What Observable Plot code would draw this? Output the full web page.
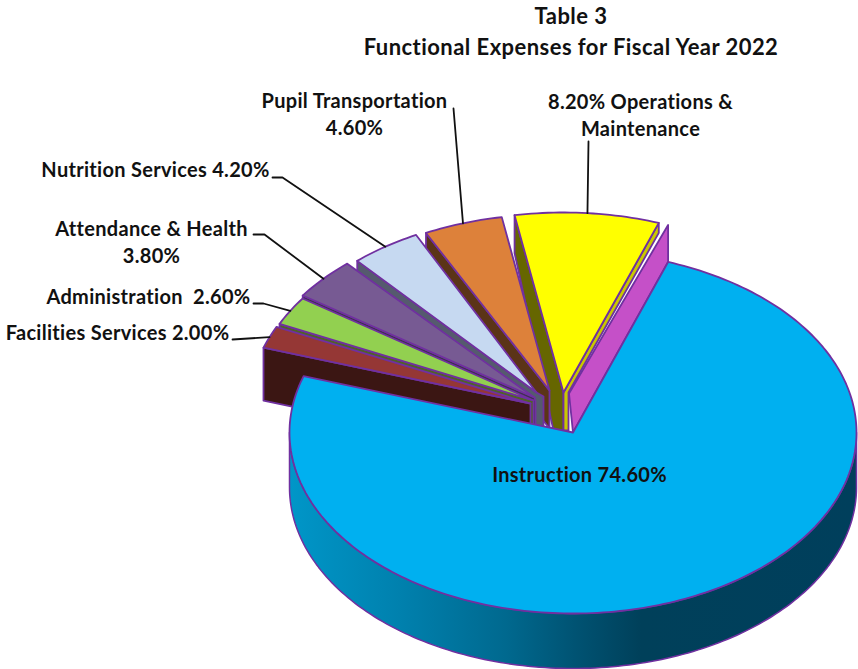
<!DOCTYPE html>
<html>
<head>
<meta charset="utf-8">
<script src="https://cdn.jsdelivr.net/npm/d3@7"></script>
<script src="https://cdn.jsdelivr.net/npm/@observablehq/plot@0.6"></script>
<style>
html,body{margin:0;padding:0;background:#fff;}
#wrap{position:relative;width:858px;height:669px;overflow:hidden;}
#title{position:absolute;left:271px;width:600px;top:0;text-align:center;font:bold 22px/31px Lato,sans-serif;letter-spacing:.45px;color:#111;}
svg{display:block;}
svg text{letter-spacing:.3px;}
</style>
</head>
<body>
<div id="wrap"><div id="title">Table 3<br>Functional Expenses for Fiscal Year 2022</div><div id="chart"></div></div>
<script>
// ---- data ----
const categories = ["Instruction","Facilities Services","Administration","Attendance & Health","Nutrition Services","Pupil Transportation","Operations & Maintenance"];
const shares = [74.6, 2.0, 2.6, 3.8, 4.2, 4.6, 8.2];
const labels = ["Instruction 74.60%","Facilities Services 2.00%","Administration  2.60%","Attendance & Health\n3.80%","Nutrition Services 4.20%","Pupil Transportation\n4.60%","8.20% Operations &\nMaintenance"];

// ---- layout and style (separate from values) ----
const W = 858, H = 669, INK = "#7030a0";
const firstAngle = 19.6 * Math.PI / 180;
const cx = [572.5, 530, 533, 534, 536, 549, 563];
const cy = [432, 403, 400, 397, 392, 390, 392];
const rx = [283.5, 281, 281, 282, 270, 277, 284];
const ry = [181, 179, 179, 179, 176, 176, 180];
const depth = [55, 53, 36, 36, 36, 38, 38];
const colLeft = [0, 0, 0, 0, 0, 0, -10];
const colRight = [0, 0, 0, 1, 7, 0, 0];
const faceColor = ["#00b0f0","#953735","#92d050","#775a93","#c6d9f1","#dd813a","#ffff00"];
const wallColor = ["url(#rim)","#3b1613","#4f6228","#3f3151","#555a6e","#5b3417","#666600"];
const labelX = [579, 117, 148, 151, 155, 354, 640];
const labelY = [473, 331, 295, 240, 168, 112, 113];
const elbow = [null, [[232,339]], [[253,303],[263,303]], [[253,234],[264,234]], [[272,177],[282,177]], [[453,108]], [[588,141]]];

// ---- geometry derived from the values ----
const arcs = d3.pie().sort(null).startAngle(firstAngle).endAngle(firstAngle + 2 * Math.PI)(shares);
const at = (i, t, dy = 0) => ({x: cx[i] + rx[i] * Math.sin(t), y: cy[i] - ry[i] * Math.cos(t) + dy});
const arcPts = (i, a, b, dy = 0) => {
  const n = Math.max(2, Math.ceil(Math.abs(b - a) / 0.02));
  return d3.range(n + 1).map(k => at(i, a + (b - a) * k / n, dy));
};
const centre = (i, dy = 0, dx = 0) => ({x: cx[i] + dx, y: cy[i] + dy});
const close = p => [...p, p[0]];
const poly = (pts, fill, sw = 1.8) => Plot.line(close(pts), {x: "x", y: "y", fill, stroke: INK, strokeWidth: sw, strokeLinejoin: "round"});

const faceOf = i => poly([centre(i), ...arcPts(i, arcs[i].startAngle, arcs[i].endAngle)], faceColor[i]);
const leftWall = i => poly([
  centre(i), at(i, arcs[i].startAngle), at(i, arcs[i].startAngle, depth[i]),
  centre(i, depth[i], colLeft[i]), centre(i, depth[i], colRight[i]), centre(i, 4, colRight[i])
], wallColor[i]);

// Instruction's cut face seen behind the Operations slice, and the Operations right wall
const iStart = at(0, arcs[0].startAngle);
const cutFace = poly([centre(0, -39, -4), {x: iStart.x, y: iStart.y - 37}, iStart, centre(0)], "#c550c8");
const ops = 6, opsEnd = at(ops, arcs[ops].endAngle);
const opsRight = poly([centre(ops), opsEnd, {x: opsEnd.x, y: opsEnd.y + 10}, centre(ops, 0, 5), centre(ops, 38, 5), centre(ops, 38)], "#c8c800");

// Front rim of the big slice
const rim = poly([...arcPts(0, Math.PI / 2, 1.5 * Math.PI), ...arcPts(0, 1.5 * Math.PI, Math.PI / 2, depth[0])], "url(#rim)", 1.5);

const defs = () => {
  const s = d3.create("svg:defs");
  const g = s.append("linearGradient").attr("id", "rim").attr("gradientUnits", "userSpaceOnUse")
    .attr("x1", 289).attr("x2", 857).attr("y1", 0).attr("y2", 0);
  [[0, "#0096c8"], [0.2, "#0080ad"], [0.38, "#00698f"], [0.52, "#00506f"], [0.62, "#00405a"], [1, "#003f5c"]]
    .forEach(([o, c]) => g.append("stop").attr("offset", o).attr("stop-color", c));
  return s.node();
};

const leader = i => {
  const mid = (arcs[i].startAngle + arcs[i].endAngle) / 2;
  const pts = [...elbow[i].map(([x, y]) => ({x, y})), at(i, mid)];
  return Plot.line(pts, {x: "x", y: "y", stroke: "#111", strokeWidth: 1.8});
};

const order = [6, 5, 4, 3, 2, 1];
const marks = [
  defs,
  leftWall(6), cutFace, opsRight, faceOf(6),
  ...order.slice(1).flatMap(i => [leftWall(i), faceOf(i)]),
  rim,
  faceOf(0),
  ...order.map(leader),
  Plot.text(d3.range(labels.length), {
    x: i => labelX[i], y: i => labelY[i], text: i => labels[i],
    fontFamily: "Lato, sans-serif", fontWeight: 700, fontSize: 20, lineHeight: 1.35, fill: "#111"
  })
];

document.getElementById("chart").append(Plot.plot({
  width: W, height: H, margin: 0,
  x: {domain: [0, W], range: [0, W], axis: null},
  y: {domain: [0, H], range: [0, H], axis: null},
  marks
}));
</script>
</body>
</html>
